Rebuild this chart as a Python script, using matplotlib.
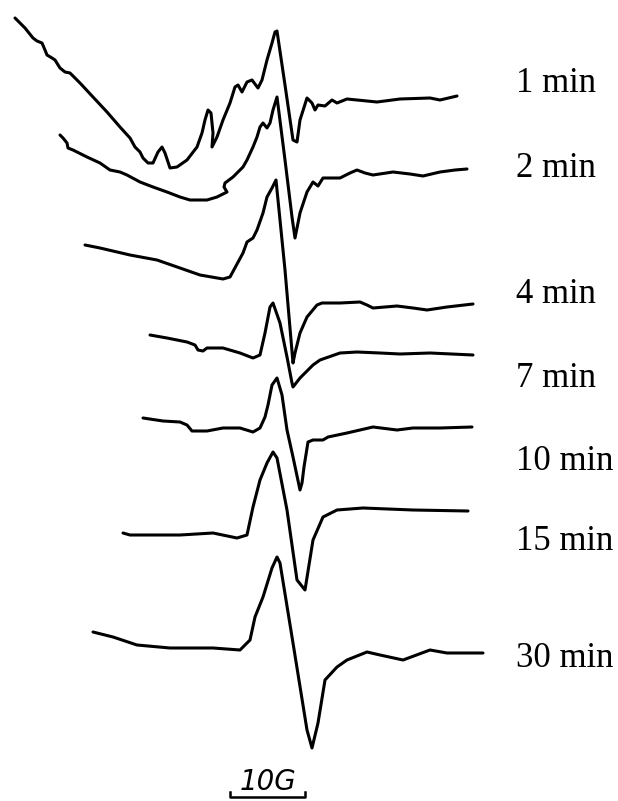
import matplotlib.pyplot as plt

# traces (x, y in image pixels, y grows downward)
t1_x = [15, 25, 33, 37, 42, 45, 47, 52, 55, 60, 65, 70, 80, 93, 107, 120, 130, 135, 140, 143,
        148, 153, 158, 162, 165, 170, 177, 187, 197, 202, 205, 208, 211, 213, 212, 217, 223,
        230, 235, 238, 242, 247, 252, 258, 262, 267, 272, 275, 277, 285, 293, 297, 300, 307,
        312, 315, 318, 325, 332, 337, 347, 377, 400, 430, 440, 457]
t1_y = [18, 28, 38, 41, 43, 50, 55, 58, 60, 68, 72, 73, 83, 97, 112, 127, 138, 147, 152, 158,
        163, 163, 152, 147, 153, 168, 167, 160, 147, 133, 120, 110, 113, 133, 147, 137, 120,
        103, 87, 85, 92, 82, 80, 88, 80, 60, 43, 32, 31, 85, 140, 142, 120, 98,
        103, 110, 105, 106, 100, 103, 99, 102, 99, 98, 100, 96]

t2_x = [60, 63, 67, 68, 73, 87, 100, 110, 120, 127, 140, 153, 167, 180, 190, 207, 217, 227,
        224, 225, 233, 243, 247, 253, 257, 260, 263, 267, 270, 273, 277, 285, 292, 295, 300,
        307, 310, 313, 318, 323, 333, 340, 350, 357, 365, 373, 393, 410, 423, 440, 455, 467]
t2_y = [135, 138, 143, 148, 150, 157, 163, 170, 172, 175, 182, 187, 192, 197, 200, 200, 197, 192,
        187, 183, 177, 167, 160, 147, 137, 127, 123, 128, 123, 110, 97, 160, 217, 238, 213,
        192, 187, 182, 186, 178, 178, 178, 173, 170, 173, 175, 172, 174, 176, 172, 170, 169]

t3_x = [85, 100, 130, 157, 180, 200, 223, 230, 243, 247, 253, 257, 263, 267, 272, 276, 285,
        293, 295, 300, 307, 317, 322, 340, 360, 367, 373, 397, 413, 427, 447, 473]
t3_y = [245, 248, 255, 260, 268, 275, 279, 277, 253, 242, 238, 230, 213, 197, 188, 180, 270,
        363, 353, 333, 317, 305, 303, 303, 302, 305, 308, 306, 308, 310, 307, 304]

t4_x = [150, 167, 187, 195, 198, 203, 207, 223, 240, 253, 260, 265, 270, 273, 280, 287, 292,
        293, 300, 313, 320, 340, 357, 380, 400, 430, 473]
t4_y = [335, 338, 342, 345, 350, 351, 348, 348, 353, 358, 355, 333, 307, 303, 323, 357, 383,
        387, 378, 365, 360, 353, 352, 353, 354, 353, 355]

t5_x = [143, 163, 180, 187, 192, 207, 223, 240, 253, 260, 265, 268, 272, 277, 282, 287, 293,
        300, 302, 304, 308, 313, 323, 328, 347, 373, 397, 413, 440, 472]
t5_y = [418, 421, 422, 425, 431, 431, 428, 428, 432, 428, 417, 405, 385, 378, 395, 430, 457,
        490, 483, 467, 442, 440, 440, 437, 433, 427, 430, 428, 428, 427]

t6_x = [123, 130, 180, 213, 237, 247, 253, 260, 267, 273, 277, 287, 297, 305, 313, 323, 337,
        363, 413, 468]
t6_y = [533, 535, 535, 533, 538, 535, 507, 480, 463, 452, 458, 510, 580, 590, 540, 517, 510,
        508, 510, 511]

t7_x = [93, 113, 137, 170, 213, 240, 250, 255, 263, 272, 277, 280, 293, 307, 312, 318, 325,
        337, 347, 367, 380, 403, 430, 447, 483]
t7_y = [632, 637, 645, 648, 648, 650, 640, 617, 597, 568, 557, 563, 643, 730, 748, 723, 680,
        667, 660, 652, 655, 660, 650, 653, 653]

labels = ["1 min", "2 min", "4 min", "7 min", "10 min", "15 min", "30 min"]
label_y = [92, 177, 303, 387, 470, 550, 667]

bar_x = [230, 230, 305, 305]
bar_y = [792, 797, 797, 792]

traces = [(t1_x, t1_y), (t2_x, t2_y), (t3_x, t3_y), (t4_x, t4_y),
          (t5_x, t5_y), (t6_x, t6_y), (t7_x, t7_y)]

fig = plt.figure(figsize=(6.18, 8.01), dpi=100)
ax = fig.add_axes([0, 0, 1, 1])
ax.set_xlim(0, 618)
ax.set_ylim(801, 0)
ax.axis("off")

for x, y in traces:
    ax.plot(x, y, color="black", lw=2.2, solid_joinstyle="round", solid_capstyle="round")

for lab, yy in zip(labels, label_y):
    ax.text(516, yy, lab, fontsize=25, family="Liberation Serif",
            ha="left", va="baseline", color="black")

# scale bar
ax.plot(bar_x, bar_y, color="black", lw=1.8)
ax.text(268, 790, "10G", fontsize=20, family="DejaVu Sans", style="italic",
        ha="center", va="baseline", color="black")

fig.savefig("out.png", dpi=100)
